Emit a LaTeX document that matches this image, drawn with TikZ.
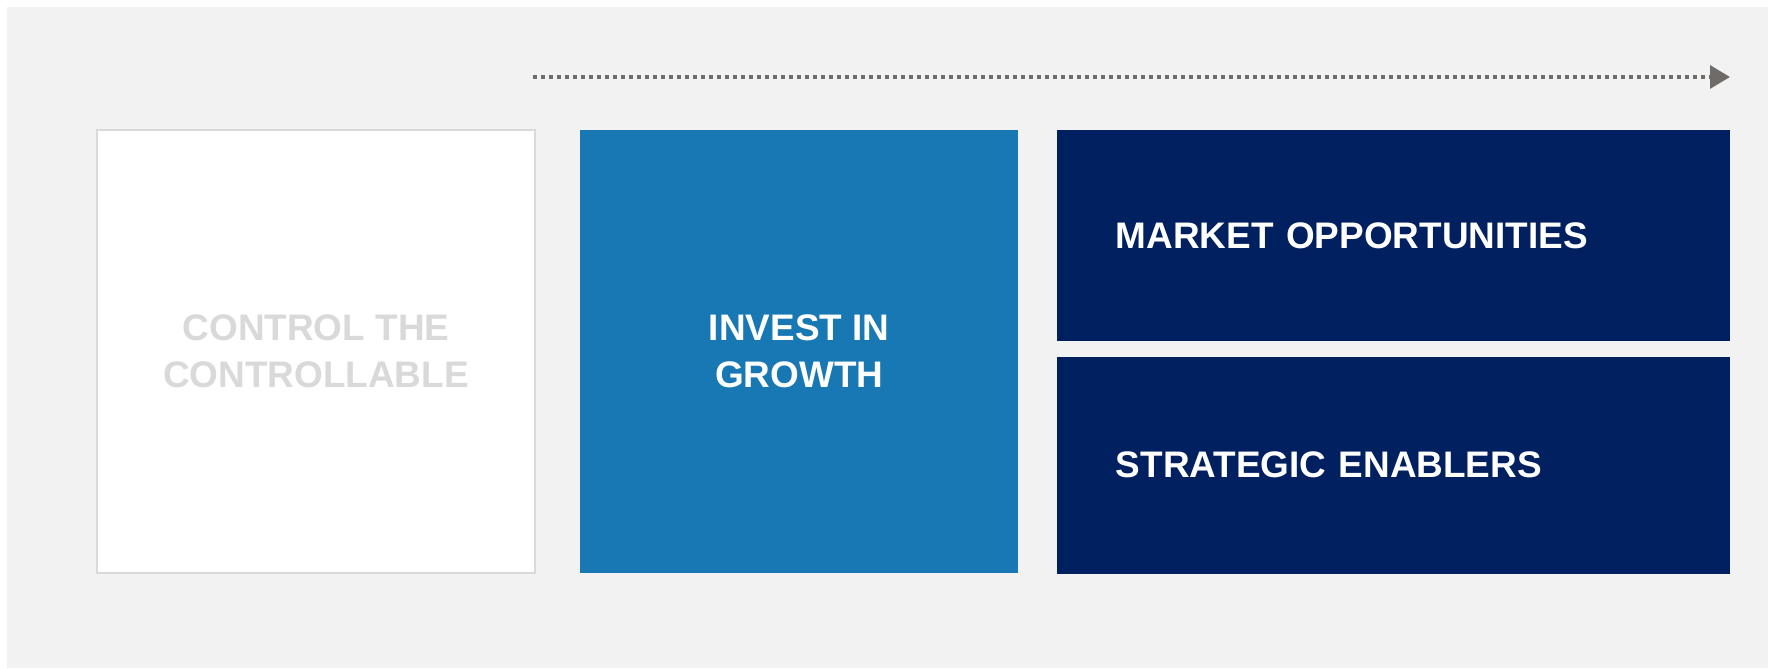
\documentclass[tikz,border=0pt]{standalone}
\usepackage{xcolor}
\usepackage{fontspec}
\setmainfont{Liberation Sans}
\usepackage{tikz}
\usetikzlibrary{arrows.meta,positioning}
\definecolor{canvas}{HTML}{F2F2F2}
\definecolor{ghost}{HTML}{D9D9D9}
\definecolor{growthblue}{HTML}{1878B4}
\definecolor{navy}{HTML}{002060}
\definecolor{pointer}{HTML}{6F6B69}

\begin{document}
\begin{tikzpicture}[
  x=0.75pt, y=-0.75pt,
  tile/.style={rectangle, inner sep=0pt, align=center, minimum width=328.5pt, minimum height=332.25pt, font=\fontsize{27.7}{35}\selectfont\bfseries},
  faded/.style={tile, fill=white, draw=ghost, line width=1.5pt, text=ghost},
  growth/.style={tile, fill=growthblue, text=white},
  pillar/.style={rectangle, fill=navy, text=white, align=left, minimum width=504.75pt, inner xsep=44.25pt, inner ysep=0pt, text width=416.25pt, font=\fontsize{27.7}{35}\selectfont\bfseries},
  arr/.style={-{Triangle[length=15pt, width=17pt]}, line width=3pt, pointer, dash pattern=on 3pt off 3pt}
]
  \useasboundingbox (0,0) rectangle (1768,668);
  \fill[white] (0,0) rectangle (1768,668);
  \fill[canvas] (7,7) rectangle (1768,668);

  \node[faded, anchor=north west] (ctrl) at (96,129) {CONTROL THE\\CONTROLLABLE};
  \node[growth, right=33pt of ctrl] (invest) {INVEST IN\\GROWTH};
  \node[pillar, minimum height=158.25pt, right=28.5pt of invest.north east, anchor=north west] (market) {MARKET OPPORTUNITIES};
  \node[pillar, minimum height=162.75pt, below=11.25pt of market] (enablers) {STRATEGIC ENABLERS};

  % progress arrow over the two right columns
  \coordinate (from) at (533,77);
  \coordinate (to) at (1730,77);
  \draw[arr] (from) -- (to);
\end{tikzpicture}
\end{document}
